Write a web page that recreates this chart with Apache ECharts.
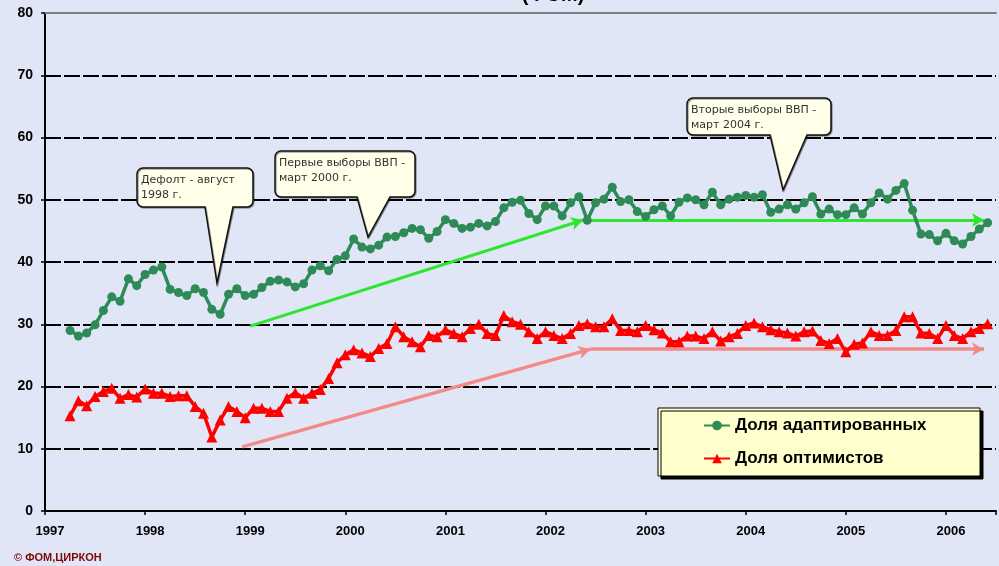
<!DOCTYPE html>
<html><head><meta charset="utf-8">
<script src="https://cdn.jsdelivr.net/npm/echarts@6/dist/echarts.min.js"></script>
<style>html,body{margin:0;padding:0;background:#E1E6F7}#c{width:999px;height:566px}</style>
</head><body><div id="c"></div>
<script>
// ---- data (monthly, starting April 1997) ----
const startYear = 1997, startMonth = 4;
const adaptedName = 'Доля адаптированных';
const optimistName = 'Доля оптимистов';
const adapted = [
  29.0, 28.1, 28.6, 29.9, 32.2, 34.4, 33.7, 37.3, 36.2,
  38.0, 38.7, 39.2, 35.6, 35.1, 34.6, 35.7, 35.1, 32.4, 31.6, 34.8, 35.7,
  34.6, 34.8, 35.9, 36.9, 37.1, 36.8, 36.0, 36.5, 38.7, 39.4, 38.6, 40.4,
  41.0, 43.7, 42.4, 42.1, 42.7, 44.0, 44.1, 44.7, 45.4, 45.2, 43.8, 44.9,
  46.8, 46.2, 45.4, 45.6, 46.2, 45.8, 46.5, 48.7, 49.6, 49.9, 47.8, 46.8,
  49.0, 49.0, 47.4, 49.5, 50.5, 46.7, 49.5, 50.1, 52.0, 49.7, 50.0, 48.1,
  47.3, 48.4, 49.0, 47.4, 49.6, 50.3, 50.0, 49.2, 51.2, 49.2, 50.1, 50.4,
  50.7, 50.4, 50.8, 48.0, 48.5, 49.2, 48.5, 49.5, 50.5, 47.7, 48.5, 47.6,
  47.6, 48.7, 47.7, 49.5, 51.1, 50.1, 51.5, 52.6, 48.3, 44.5, 44.4, 43.4,
  44.6, 43.4, 42.9, 44.1, 45.3, 46.3
];
const optimists = [
  15.3, 17.7, 16.9, 18.4, 19.2, 19.7, 18.1, 18.7, 18.3,
  19.6, 18.9, 18.9, 18.4, 18.5, 18.5, 16.8, 15.7, 11.9, 14.6, 16.8, 16.0,
  15.0, 16.5, 16.5, 16.0, 16.0, 18.1, 19.0, 18.1, 18.9, 19.5, 21.3, 23.8,
  25.1, 25.9, 25.4, 24.8, 26.1, 26.9, 29.6, 28.0, 27.2, 26.4, 28.2, 28.0,
  29.1, 28.5, 28.0, 29.3, 30.0, 28.5, 28.2, 31.4, 30.4, 30.0, 28.8, 27.7,
  28.8, 28.2, 27.7, 28.5, 29.8, 30.1, 29.6, 29.6, 30.9, 29.0, 29.0, 28.8,
  29.8, 29.1, 28.6, 27.2, 27.2, 28.1, 28.1, 27.7, 28.8, 27.3, 28.0, 28.5,
  29.8, 30.2, 29.6, 29.1, 28.8, 28.6, 28.1, 28.8, 28.9, 27.4, 26.9, 27.7,
  25.6, 26.8, 27.0, 28.8, 28.2, 28.2, 29.0, 31.2, 31.2, 28.6, 28.5, 27.7,
  29.8, 28.2, 27.7, 28.8, 29.3, 30.1
];
// trend arrows: [x (year), y (%)]
const greenArrowRise = [[1999.05, 29.7], [2002.375, 46.75]];
const greenArrowFlat = [[2002.45, 46.75], [2006.38, 46.75]];
const pinkArrowRise  = [[1998.97, 10.3], [2002.45, 26.0]];
const pinkArrowFlat  = [[2002.45, 26.0], [2006.38, 26.0]];
const yearTicks = [1997, 1998, 1999, 2000, 2001, 2002, 2003, 2004, 2005, 2006];
const callouts = [
  ['Дефолт - август', '1998 г.'],
  ['Первые выборы ВВП -', 'март 2000 г.'],
  ['Вторые выборы ВВП -', 'март 2004 г.']
];

function toPoints(arr) {
  return arr.map((v, i) => [startYear + (startMonth - 1 + i) / 12, v]);
}

// ---- callout shapes (pixel layout) ----
function calloutPoly(x1, y1, x2, y2, r, b1, b2, tx, ty) {
  const pts = [];
  function arc(cx, cy, a0, a1) {
    for (let k = 0; k <= 4; k++) {
      const a = a0 + (a1 - a0) * k / 4;
      pts.push([cx + r * Math.cos(a), cy + r * Math.sin(a)]);
    }
  }
  const P = Math.PI;
  arc(x1 + r, y1 + r, P, 1.5 * P);
  arc(x2 - r, y1 + r, 1.5 * P, 2 * P);
  arc(x2 - r, y2 - r, 0, 0.5 * P);
  pts.push([b2, y2], [tx, ty], [b1, y2]);
  arc(x1 + r, y2 - r, 0.5 * P, P);
  return pts;
}
const calloutLayout = [
  {box: [137, 168, 253, 207], base: [205, 233], tip: [217, 283]},
  {box: [275, 151, 415, 197], base: [357, 390], tip: [368, 237]},
  {box: [687, 98, 831, 135], base: [770, 807], tip: [783, 190]}
];
const graphics = [];
calloutLayout.forEach((c, i) => {
  const [x1, y1, x2, y2] = c.box;
  graphics.push({
    type: 'polygon', z: 20,
    shape: {points: calloutPoly(x1, y1, x2, y2, 6, c.base[0], c.base[1], c.tip[0], c.tip[1])},
    style: {fill: '#FFFFEA', stroke: '#111', lineWidth: 1.5,
            shadowColor: 'rgba(0,0,0,0.35)', shadowOffsetX: 1, shadowOffsetY: 1}
  });
  graphics.push({
    type: 'text', z: 21, x: x1 + 4, y: y1 + 5,
    style: {text: callouts[i].join('\n'), fill: '#333', font: '11px "DejaVu Sans", sans-serif', lineHeight: 15}
  });
});
// legend box
graphics.push({
  type: 'rect', z: 5, shape: {x: 658, y: 408, width: 322, height: 68},
  style: {fill: '#FFFFCC', stroke: '#000', lineWidth: 1, shadowColor: '#000', shadowOffsetX: 3, shadowOffsetY: 3}
});
// partially visible title
graphics.push({
  type: 'text', z: 5, x: 553, y: -15,
  style: {text: '(ФОМ)', fill: '#000', font: 'bold 20px "Liberation Sans", Arial, sans-serif', align: 'center'}
});
// copyright
graphics.push({
  type: 'text', z: 5, x: 14, y: 552,
  style: {text: '© ФОМ,ЦИРКОН', fill: '#7A0A0A', font: 'bold 11px "Liberation Sans Narrow", "Liberation Sans", sans-serif'}
});

function arrowLine(name, seg1, seg2, color, width) {
  return {
    name: name, type: 'line', data: [], silent: true,
    markLine: {
      silent: true, symbol: ['none', 'arrow'], symbolSize: [10, 12],
      label: {show: false},
      lineStyle: {color: color, width: width, type: 'solid'},
      emphasis: {disabled: true},
      data: [
        [{coord: seg1[0]}, {coord: seg1[1]}],
        [{coord: seg2[0]}, {coord: seg2[1]}]
      ]
    }
  };
}

const chart = echarts.init(document.getElementById('c'), null, {renderer: 'canvas'});
const axisFont = '"Liberation Sans Narrow", "Liberation Sans", Arial, sans-serif';
chart.setOption({
  backgroundColor: '#E1E6F7',
  animation: false,
  grid: {left: 45, top: 13, width: 962, height: 498, containLabel: false},
  xAxis: [{
    type: 'value', min: 1997, max: 2006.5, interval: 1,
    axisLine: {lineStyle: {color: '#000', width: 2}},
    axisTick: {show: true, length: 4, lineStyle: {color: '#000', width: 1.5}},
    axisLabel: {color: '#000', fontWeight: 'bold', fontSize: 13, fontFamily: axisFont, margin: 14,
      padding: [0, 0, 0, 10],
      formatter: v => (yearTicks.indexOf(Math.round(v)) >= 0 && Math.abs(v - Math.round(v)) < 1e-6) ? String(Math.round(v)) : ''},
    splitLine: {show: false}
  }, {
    type: 'value', position: 'top', min: 1997, max: 2006.5,
    axisLine: {show: true, onZero: false, lineStyle: {color: '#7F7F7F', width: 2}},
    axisTick: {show: false}, axisLabel: {show: false}, splitLine: {show: false}
  }],
  yAxis: {
    type: 'value', min: 0, max: 80, interval: 10,
    axisLine: {show: true, lineStyle: {color: '#000', width: 2}},
    axisTick: {show: true, length: 4, lineStyle: {color: '#000', width: 1.5}},
    axisLabel: {color: '#000', fontWeight: 'bold', fontSize: 14, fontFamily: axisFont, margin: 12},
    splitLine: {show: true, showMaxLine: false, lineStyle: {color: '#000', width: 2, type: [16, 3]}}
  },
  legend: {
    data: [adaptedName, optimistName],
    orient: 'vertical', left: 698, top: 412, z: 30,
    itemWidth: 26, itemHeight: 12, itemGap: 16,
    textStyle: {color: '#000', fontSize: 17, fontWeight: 'bold', fontFamily: '"Liberation Sans", Arial, sans-serif'},
    selectedMode: false
  },
  graphic: {elements: graphics},
  series: [
    arrowLine('g-arrow', greenArrowRise, greenArrowFlat, '#2EE62E', 3),
    arrowLine('p-arrow', pinkArrowRise, pinkArrowFlat, '#F28A8A', 3.5),
    {
      name: adaptedName, type: 'line', data: toPoints(adapted), z: 10,
      symbol: 'circle', symbolSize: 9, showAllSymbol: true,
      lineStyle: {color: '#2E8B57', width: 3.5},
      itemStyle: {color: '#2E8B57'}
    },
    {
      name: optimistName, type: 'line', data: toPoints(optimists), z: 10,
      symbol: 'triangle', symbolSize: 11, showAllSymbol: true,
      lineStyle: {color: '#FF0000', width: 3.5},
      itemStyle: {color: '#FF0000'}
    }
  ]
});
</script>
</body></html>
